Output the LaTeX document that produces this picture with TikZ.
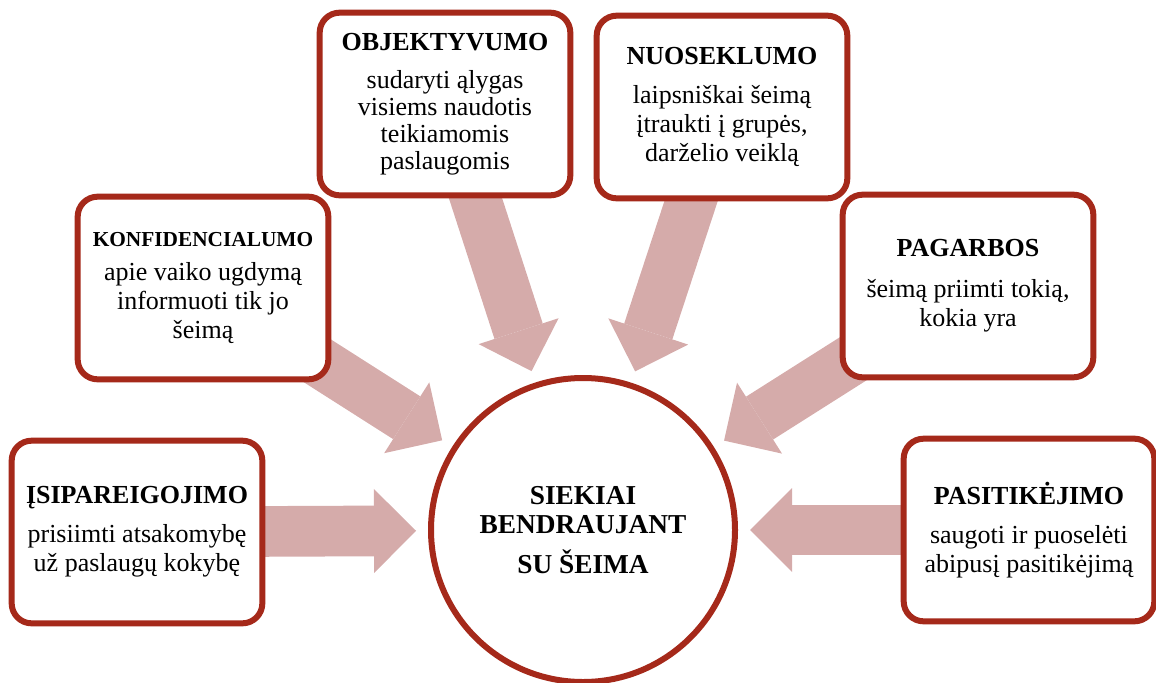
\documentclass[tikz,border=0pt]{standalone}
\usepackage{fontspec}
\setmainfont{Liberation Serif}
\usetikzlibrary{arrows.meta,backgrounds}
\definecolor{myred}{RGB}{165,41,26}
\definecolor{mypink}{RGB}{213,171,170}

\begin{document}
\begin{tikzpicture}[x=0.75pt, y=-0.75pt,
    principle/.style={draw=myred, line width=4.5pt, rounded corners=15pt, fill=white,
        minimum width=188pt, minimum height=137pt, align=center, inner sep=2pt,
        font=\fontsize{19.5}{21.75}\selectfont},
    hub/.style={circle, draw=myred, line width=4.5pt, fill=white, minimum size=228pt,
        align=center, font=\fontsize{20.5}{22}\selectfont\bfseries},
    fatarrow/.style={draw=mypink, line width=38pt, shorten >=9pt,
        -{Triangle[length=31.5pt, width=63pt, line width=0pt]}}]
    \useasboundingbox (0, 0) rectangle (1156, 682);

    % Central circle
    \node[hub] (hub) at (583, 530) {SIEKIAI\\BENDRAUJANT\\[8pt]SU ŠEIMA};

    % Principles round the circle
    \node[principle] (isi) at (137, 532)
        {\textbf{ĮSIPAREIGOJIMO}\\[7.5pt]prisiimti atsakomybę\\už paslaugų kokybę};
    \node[principle] (konf) at (203, 288)
        {{\fontsize{16}{19}\selectfont\bfseries KONFIDENCIALUMO}\\[4pt]apie vaiko ugdymą\\informuoti tik jo\\šeimą};
    \node[principle, font=\fontsize{19.5}{20.25}\selectfont] (obj) at (445, 104)
        {\textbf{OBJEKTYVUMO}\\[8pt]sudaryti ąlygas\\visiems naudotis\\teikiamomis\\paslaugomis};
    \node[principle] (nuo) at (722, 107)
        {\textbf{NUOSEKLUMO}\\[8pt]laipsniškai šeimą\\įtraukti į grupės,\\darželio veiklą};
    \node[principle] (pag) at (968, 286)
        {\textbf{PAGARBOS}\\[9pt]šeimą priimti tokią,\\kokia yra};
    \node[principle] (pas) at (1029, 530)
        {\textbf{PASITIKĖJIMO}\\[7pt]saugoti ir puoselėti\\abipusį pasitikėjimą};

    % Arrows towards the circle, under the boxes
    \begin{scope}[on background layer]
        \draw[fatarrow] (isi.center) -- (hub);
        \draw[fatarrow] (konf.center) -- (hub);
        \draw[fatarrow] (obj.center) -- (hub);
        \draw[fatarrow] (nuo.center) -- (hub);
        \draw[fatarrow] (pag.center) -- (hub);
        \draw[fatarrow] (pas.center) -- (hub);
    \end{scope}
\end{tikzpicture}
\end{document}
